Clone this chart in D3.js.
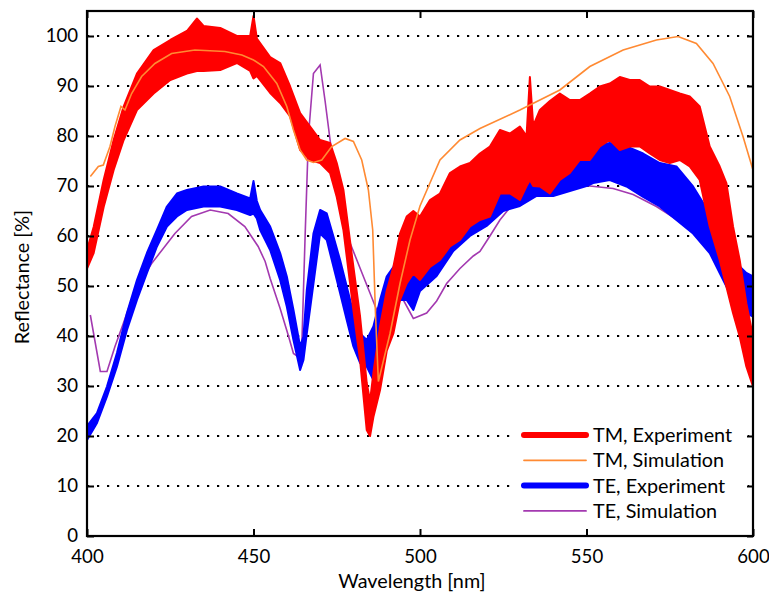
<!DOCTYPE html>
<html><head><meta charset="utf-8">
<script src="https://cdn.jsdelivr.net/npm/d3@7/dist/d3.min.js"></script>
<style>body{margin:0;background:#fff}svg{display:block}text{font-family:Lato,"Open Sans",sans-serif;fill:#000}</style>
</head><body><svg id="c" width="769" height="596"></svg>
<script>
// ---- data ----
const xTicks = [400, 450, 500, 550, 600];
const yTicks = [0, 10, 20, 30, 40, 50, 60, 70, 80, 90, 100];
const seriesNames = ["TM, Experiment", "TM, Simulation", "TE, Experiment", "TE, Simulation"];

// TM experiment: measured band (lower / upper envelope of the noisy trace)
const tmExpWl = [400,402,405,408,411,415,420,425,430,433,435,440,445,449,450,451,455,458,461,464,467,470,473,475,477,480,482,484,485,486,488,490,492,494,496,498,500,503,506,509,512,515,518,521,524,527,530,532,533,534,536,539,542,545,548,551,554,557,560,563,566,569,572,575,578,581,584,587,590,592,594,596,598,600];
const tmExpLo = [53.5,56.6,65.8,73.2,79.2,85.2,88.5,91.2,92.5,93,93,93.2,94.6,93,91.5,92,88.6,86.6,83.9,77.2,75.2,74.6,72.6,67.8,61.2,45.2,35.2,21.2,20,23.8,29.2,37,40.5,47.2,50.5,52.5,51.2,53.8,55.2,57.9,59.2,61.9,63.2,63.9,68.5,68.5,67.2,70,71.2,70,69.9,68.5,71.2,72.6,75.2,75.2,77.9,79.2,77.2,77.9,77.9,76.5,75.2,74.6,75.2,73.9,71.2,61.9,55.2,49.9,44.6,39.9,33.9,29.9];
const tmExpHi = [57.2,61.8,71.2,79.2,85.9,92.5,97.2,99.2,101,103.5,102,101.6,100,100,104,99.5,95.8,94.6,89.9,84.6,81.9,79.2,78.6,74.6,69.2,53.8,43.9,30.6,27,32.6,41.9,49,53.8,60.5,63.9,65,63.9,67.2,68.5,72.6,73.9,74.6,76.5,77.9,81.2,80.5,81.9,80,91.8,82,85.2,87,88.5,87.2,87.2,88.5,89.9,90.5,91.8,91.2,91.2,89.9,89.9,89.2,88.5,87.9,85.9,77.9,73.9,70.6,61.9,55.2,46.5,39.9];

// TE experiment band
const teExpWl = [400,403,406,409,412,415,418,421,424,427,430,435,440,445,449,450,451,452,455,458,460,462,464,465,466,468,470,472,474,476,478,480,482,484,486,488,490,492,494,496,498,500,505,510,515,520,525,530,535,540,545,550,552,557,562,567,572,577,582,587,590,593,596,598,600];
const teExpLo = [19.2,22.6,27.9,33.9,41.2,47.2,52.6,57.9,61.9,63.9,65.2,65.9,65.9,65.2,64.2,64.5,63.5,61.2,57.2,51.2,45.9,39.2,33.2,35.2,40.5,50.5,60.5,59.2,53.9,48.6,43.2,37.9,34.6,33.9,31.2,39.2,41.9,43.9,47.2,47.2,45.2,49,52,57,60,62,65,66,68,68,69,70,70.6,71.2,69.9,67.8,65.9,63.2,60.5,56.6,52.6,48.6,46.6,44.6,43.9];
const teExpHi = [22,24.6,29.9,36.6,44.6,51.2,56.6,61.2,65.9,68.5,69.2,69.9,69.9,68.5,67.5,71,67,65.2,61.9,56.6,51.9,45.2,37.9,39.9,49.2,60.5,65.2,64.5,59.9,55.2,49.9,44.6,40.5,39.2,41.9,47.2,51.9,53.8,56.6,56.6,55.2,60,64,67,69,71,73,74,76,76,78,77,77.9,78.6,77.9,76.5,74.6,73.9,69.9,64.5,60.5,56.6,53.9,52.6,51.9];

// TM simulation
const tmSimWl = [401,403.4,404.9,406.9,408.4,410.2,411.4,413.4,416.4,420.4,425.4,432.4,441.4,446.5,450,453,457,460,462,464,466,468,470.5,473.5,477.5,480,482.5,484.5,485.8,486.6,487.5,491,494,497,500,506,512,518,530,542,551,561,571,577.5,583,588,593,597,600];
const tmSim = [71.9,73.9,74.2,77.9,81.9,85.9,85.2,88.5,91.9,94.5,96.5,97.2,96.9,96.2,95.2,93.9,90.5,85.9,81.2,77.2,75.2,74.7,75.2,77.9,79.5,78.9,75.2,69.2,61.2,45,30.9,40.5,50.5,59.2,66,75.2,79.2,81.5,85.2,89.2,93.9,97.2,99.2,99.9,98.5,94.5,87.9,79.9,73.2];

// TE simulation
const teSimWl = [401,404,406,408.4,410.9,414.4,419.4,426.4,431.4,437,442.4,447.4,451.4,453.5,455,458,460.5,462,463.5,464.5,465.5,466.5,468,470,471.5,473,474.5,476,479,483,487,488.5,491,493,495,498,502,505,508,512,516,518,521,524,528,533,538,542,547,551,558,564,571,579,585.6,588];
const teSim = [44.2,32.9,32.9,37.9,42.5,49.2,54.5,60.5,63.9,65.2,64.5,61.9,57.9,54.9,51.5,45.5,40,36.5,35.8,38,60,80,92.5,94.2,87,79.2,72,65,58.6,51.9,45.2,43.5,48,49,47.2,43.5,44.6,47,50.5,53.5,56,56.9,60,63.2,66.5,68.5,69.6,70.2,70.3,70,69.5,68.3,65.9,62.5,59.5,57.5];

// ---- layout ----
const L = 87, R = 753, T = 11, B = 536;
const svg = d3.select("#c");
const x = d3.scaleLinear().domain([400, 600]).range([L, R]);
const y = d3.scaleLinear().domain([0, 105]).range([B, T]);

const colors = {tmExp: "#ff0000", tmSim: "#ff8a33", teExp: "#0000ff", teSim: "#a339b0"};

// grid
svg.append("g").selectAll("line").data(yTicks.filter(d => d > 0)).join("line")
  .attr("x1", L).attr("x2", R).attr("y1", d => y(d)).attr("y2", d => y(d))
  .attr("stroke", "#000").attr("stroke-width", 2.2).attr("stroke-dasharray", "2.2 7.8");

const plot = svg.append("g");
const band = (wl, lo, hi) => wl.map((w, i) => ({w, lo: lo[i], hi: hi[i]}));
const area = d3.area().x(d => x(d.w)).y0(d => y(d.lo)).y1(d => y(d.hi));
const line = d3.line().x(d => x(d[0])).y(d => y(d[1]));

// TE simulation (under experiments)
plot.append("path").datum(teSimWl.map((w, i) => [w, teSim[i]])).attr("d", line)
  .attr("fill", "none").attr("stroke", colors.teSim).attr("stroke-width", 1.6);
// TE experiment
plot.append("path").datum(band(teExpWl, teExpLo, teExpHi)).attr("d", area)
  .attr("fill", colors.teExp).attr("stroke", colors.teExp).attr("stroke-width", 2).attr("stroke-linejoin", "round");
// TM experiment
plot.append("path").datum(band(tmExpWl, tmExpLo, tmExpHi)).attr("d", area)
  .attr("fill", colors.tmExp).attr("stroke", colors.tmExp).attr("stroke-width", 2).attr("stroke-linejoin", "round");
// TM simulation
plot.append("path").datum(tmSimWl.map((w, i) => [w, tmSim[i]])).attr("d", line)
  .attr("fill", "none").attr("stroke", colors.tmSim).attr("stroke-width", 1.6);

// legend
const lg = svg.append("g");
lg.append("rect").attr("x", 512).attr("y", 421).attr("width", 236).attr("height", 103).attr("fill", "#fff");
const lgStyles = [[colors.tmExp, 6], [colors.tmSim, 1.8], [colors.teExp, 6], [colors.teSim, 1.8]];
seriesNames.forEach((n, i) => {
  const yy = 435 + i * 25.3;
  lg.append("line").attr("x1", 524).attr("x2", 586).attr("y1", yy).attr("y2", yy)
    .attr("stroke", lgStyles[i][0]).attr("stroke-width", lgStyles[i][1]).attr("stroke-linecap", "round");
  lg.append("text").attr("x", 593).attr("y", yy).attr("dy", "0.35em").attr("font-size", 19.8).text(n);
});

// axes (inward ticks)
const gx = svg.append("g").attr("transform", `translate(0,${B})`)
  .call(d3.axisBottom(x).tickValues(xTicks).tickSize(-7).tickPadding(14).tickFormat(d3.format("d")));
const gxt = svg.append("g").attr("transform", `translate(0,${T})`)
  .call(d3.axisTop(x).tickValues(xTicks).tickSize(-7).tickFormat(""));
const gy = svg.append("g").attr("transform", `translate(${L},0)`)
  .call(d3.axisLeft(y).tickValues(yTicks).tickSize(-7).tickPadding(9).tickFormat(d3.format("d")));
const gyr = svg.append("g").attr("transform", `translate(${R},0)`)
  .call(d3.axisRight(y).tickValues(yTicks).tickSize(-6).tickFormat(""));
[gx, gxt, gy, gyr].forEach(g => {
  g.select(".domain").remove();
  g.selectAll(".tick line").attr("stroke", "#000").attr("stroke-width", 2);
  g.selectAll("text").attr("font-size", 18.6).attr("font-family", "Lato, 'Open Sans', sans-serif");
});
svg.append("rect").attr("x", L).attr("y", T).attr("width", R - L).attr("height", B - T)
  .attr("fill", "none").attr("stroke", "#000").attr("stroke-width", 2.2);

// axis titles
svg.append("text").attr("x", 412).attr("y", 588).attr("text-anchor", "middle").attr("font-size", 19.8).text("Wavelength [nm]");
svg.append("text").attr("transform", "translate(29,277) rotate(-90)").attr("text-anchor", "middle").attr("font-size", 19.8).text("Reflectance [%]");
</script></body></html>
